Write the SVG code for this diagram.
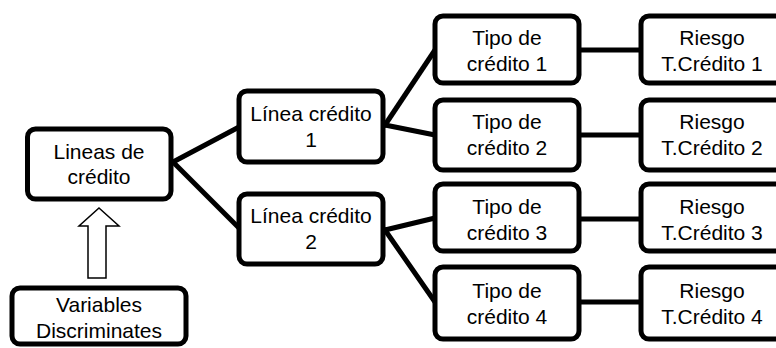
<svg xmlns="http://www.w3.org/2000/svg" width="776" height="348" viewBox="0 0 776 348">
<style>
.box{fill:#fff;stroke:#000;stroke-width:5}
.t{font-family:"Liberation Sans",Arial,sans-serif;font-size:21px;fill:#000;text-anchor:middle}
.c{stroke:#000;stroke-width:5;fill:none;stroke-linecap:round}
</style>
<rect width="776" height="348" fill="#fff"/>
<g id="connectors">
<line class="c" x1="173" y1="162" x2="239" y2="127"/>
<line class="c" x1="173" y1="162" x2="239" y2="228"/>
<line class="c" x1="385" y1="125" x2="435" y2="50"/>
<line class="c" x1="385" y1="125" x2="435" y2="135"/>
<line class="c" x1="385" y1="230" x2="435" y2="218"/>
<line class="c" x1="385" y1="230" x2="435" y2="302"/>
<line class="c" x1="579" y1="50" x2="641" y2="50"/>
<line class="c" x1="579" y1="135" x2="641" y2="135"/>
<line class="c" x1="579" y1="219" x2="641" y2="219"/>
<line class="c" x1="579" y1="302" x2="641" y2="302"/>
<polygon points="99,208 119,226 106,226 106,278 88,278 88,226 79,226" fill="#fff" stroke="#000" stroke-width="1.5"/>
</g>
<g id="lineas">
<rect class="box" x="27.5" y="129" width="143.5" height="70" rx="8"/>
<text class="t" x="99" y="159">Lineas de</text>
<text class="t" x="99" y="184">crédito</text>
</g>
<g id="variables">
<rect class="box" x="12" y="288" width="174" height="56" rx="8"/>
<text class="t" x="99" y="312">Variables</text>
<text class="t" x="99" y="338">Discriminates</text>
</g>
<g id="linea1">
<rect class="box" x="239" y="91" width="144" height="71" rx="8"/>
<text class="t" x="311" y="121">Línea crédito</text>
<text class="t" x="311" y="147">1</text>
</g>
<g id="linea2">
<rect class="box" x="239" y="194" width="144" height="70" rx="8"/>
<text class="t" x="311" y="223">Línea crédito</text>
<text class="t" x="311" y="249">2</text>
</g>
<g id="tipo1">
<rect class="box" x="435" y="16" width="144" height="67" rx="8"/>
<text class="t" x="507" y="45">Tipo de</text>
<text class="t" x="507" y="71">crédito 1</text>
</g>
<g id="tipo2">
<rect class="box" x="435" y="100" width="144" height="70" rx="8"/>
<text class="t" x="507" y="129">Tipo de</text>
<text class="t" x="507" y="155">crédito 2</text>
</g>
<g id="tipo3">
<rect class="box" x="435" y="184" width="144" height="67" rx="8"/>
<text class="t" x="507" y="214">Tipo de</text>
<text class="t" x="507" y="240">crédito 3</text>
</g>
<g id="tipo4">
<rect class="box" x="435" y="267" width="144" height="72" rx="8"/>
<text class="t" x="507" y="298">Tipo de</text>
<text class="t" x="507" y="324">crédito 4</text>
</g>
<g id="riesgo1">
<rect class="box" x="641" y="16" width="144" height="67" rx="8"/>
<text class="t" x="712" y="45">Riesgo</text>
<text class="t" x="712" y="71">T.Crédito 1</text>
</g>
<g id="riesgo2">
<rect class="box" x="641" y="100" width="144" height="70" rx="8"/>
<text class="t" x="712" y="129">Riesgo</text>
<text class="t" x="712" y="155">T.Crédito 2</text>
</g>
<g id="riesgo3">
<rect class="box" x="641" y="184" width="144" height="67" rx="8"/>
<text class="t" x="712" y="214">Riesgo</text>
<text class="t" x="712" y="240">T.Crédito 3</text>
</g>
<g id="riesgo4">
<rect class="box" x="641" y="267" width="144" height="72" rx="8"/>
<text class="t" x="712" y="298">Riesgo</text>
<text class="t" x="712" y="324">T.Crédito 4</text>
</g>
</svg>
